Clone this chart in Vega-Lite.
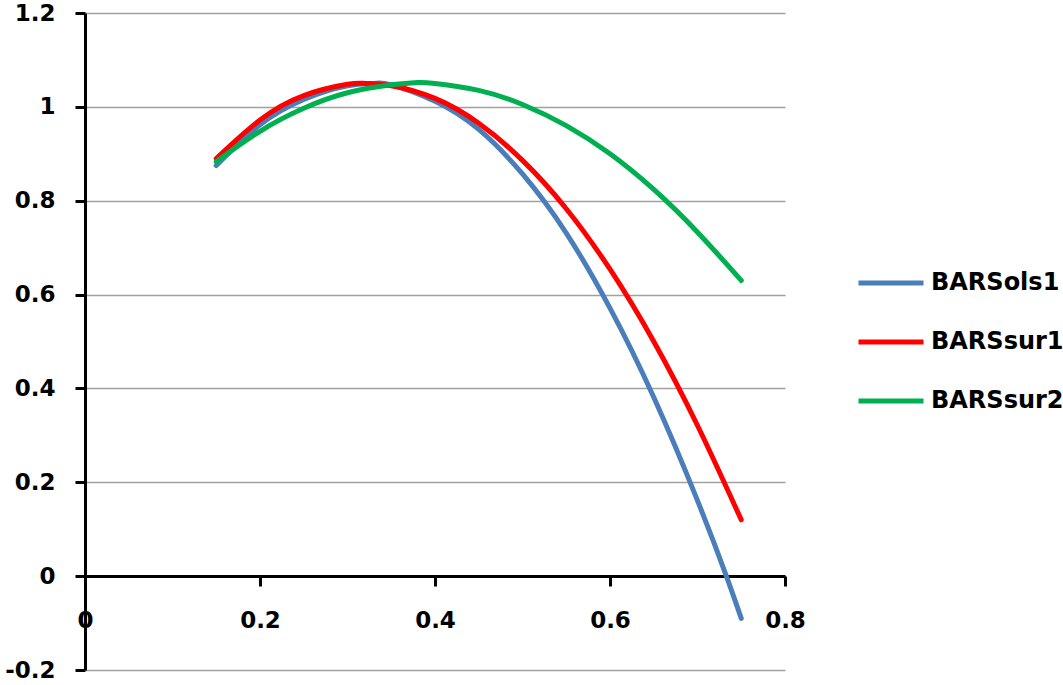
{
  "$schema": "https://vega.github.io/schema/vega-lite/v6.json",
  "width": 700,
  "height": 657,
  "autosize": {"type": "none"},
  "padding": {"left": 85, "top": 13, "right": 278, "bottom": 15},
  "background": "white",
  "config": {"view": {"stroke": null}, "font": "DejaVu Sans"},
  "data": {
    "values": [
      {"series": "BARSols1", "x": 0.15, "y": 0.875},
      {"series": "BARSols1", "x": 0.2, "y": 0.962},
      {"series": "BARSols1", "x": 0.25, "y": 1.016},
      {"series": "BARSols1", "x": 0.3, "y": 1.045},
      {"series": "BARSols1", "x": 0.33, "y": 1.05},
      {"series": "BARSols1", "x": 0.35, "y": 1.047},
      {"series": "BARSols1", "x": 0.4, "y": 1.012},
      {"series": "BARSols1", "x": 0.45, "y": 0.952},
      {"series": "BARSols1", "x": 0.5, "y": 0.857},
      {"series": "BARSols1", "x": 0.55, "y": 0.731},
      {"series": "BARSols1", "x": 0.6, "y": 0.571},
      {"series": "BARSols1", "x": 0.65, "y": 0.381},
      {"series": "BARSols1", "x": 0.7, "y": 0.161},
      {"series": "BARSols1", "x": 0.733, "y": 0.0},
      {"series": "BARSols1", "x": 0.75, "y": -0.09},
      {"series": "BARSsur1", "x": 0.15, "y": 0.89},
      {"series": "BARSsur1", "x": 0.2, "y": 0.972},
      {"series": "BARSsur1", "x": 0.25, "y": 1.024},
      {"series": "BARSsur1", "x": 0.3, "y": 1.048},
      {"series": "BARSsur1", "x": 0.32, "y": 1.05},
      {"series": "BARSsur1", "x": 0.35, "y": 1.045},
      {"series": "BARSsur1", "x": 0.4, "y": 1.018},
      {"series": "BARSsur1", "x": 0.45, "y": 0.965},
      {"series": "BARSsur1", "x": 0.5, "y": 0.886},
      {"series": "BARSsur1", "x": 0.55, "y": 0.783},
      {"series": "BARSsur1", "x": 0.6, "y": 0.654},
      {"series": "BARSsur1", "x": 0.65, "y": 0.5},
      {"series": "BARSsur1", "x": 0.7, "y": 0.321},
      {"series": "BARSsur1", "x": 0.75, "y": 0.12},
      {"series": "BARSsur2", "x": 0.15, "y": 0.883},
      {"series": "BARSsur2", "x": 0.2, "y": 0.948},
      {"series": "BARSsur2", "x": 0.25, "y": 0.997},
      {"series": "BARSsur2", "x": 0.3, "y": 1.03},
      {"series": "BARSsur2", "x": 0.35, "y": 1.047},
      {"series": "BARSsur2", "x": 0.38, "y": 1.052},
      {"series": "BARSsur2", "x": 0.4, "y": 1.05},
      {"series": "BARSsur2", "x": 0.45, "y": 1.035},
      {"series": "BARSsur2", "x": 0.5, "y": 1.005},
      {"series": "BARSsur2", "x": 0.55, "y": 0.96},
      {"series": "BARSsur2", "x": 0.6, "y": 0.9},
      {"series": "BARSsur2", "x": 0.65, "y": 0.824},
      {"series": "BARSsur2", "x": 0.7, "y": 0.733},
      {"series": "BARSsur2", "x": 0.75, "y": 0.63}
    ]
  },
  "mark": {"type": "line", "strokeWidth": 5, "strokeCap": "round", "interpolate": "natural", "clip": false},
  "encoding": {
    "x": {
      "field": "x",
      "type": "quantitative",
      "scale": {"domain": [0, 0.8], "nice": false, "zero": false},
      "axis": {
        "values": [0, 0.2, 0.4, 0.6, 0.8],
        "offset": -94,
        "title": null,
        "grid": false,
        "domainColor": "black",
        "domainWidth": 3,
        "tickColor": "black",
        "tickWidth": 3,
        "tickSize": 10,
        "labelFont": "DejaVu Sans",
        "labelFontWeight": "bold",
        "labelFontSize": 23,
        "labelColor": "black",
        "labelPadding": 23,
        "labelFlush": false,
        "labelOverlap": false,
        "labelExpr": "format(datum.value, '~g')"
      }
    },
    "y": {
      "field": "y",
      "type": "quantitative",
      "scale": {"domain": [-0.2, 1.2], "nice": false, "zero": false},
      "axis": {
        "values": [-0.2, 0, 0.2, 0.4, 0.6, 0.8, 1, 1.2],
        "title": null,
        "grid": true,
        "gridColor": "#a0a0a0",
        "gridWidth": 1.5,
        "domainColor": "black",
        "domainWidth": 3,
        "tickColor": "black",
        "tickWidth": 3,
        "tickSize": 10,
        "labelFont": "DejaVu Sans",
        "labelFontWeight": "bold",
        "labelFontSize": 23,
        "labelColor": "black",
        "labelPadding": 20,
        "labelFlush": false,
        "labelOverlap": false,
        "labelExpr": "replace(format(datum.value, '~g'), '\u2212', '-')"
      }
    },
    "color": {
      "field": "series",
      "type": "nominal",
      "scale": {"domain": ["BARSols1", "BARSsur1", "BARSsur2"], "range": ["#4a7ebb", "#ff0000", "#00b050"]},
      "legend": {
        "orient": "none",
        "legendX": 771,
        "legendY": 235,
        "title": null,
        "symbolType": "stroke",
        "symbolSize": 4225,
        "symbolStrokeWidth": 5,
        "labelFont": "DejaVu Sans",
        "labelFontWeight": "bold",
        "labelFontSize": 24,
        "labelColor": "black",
        "labelOffset": 5,
        "rowPadding": 12
      }
    }
  }
}
